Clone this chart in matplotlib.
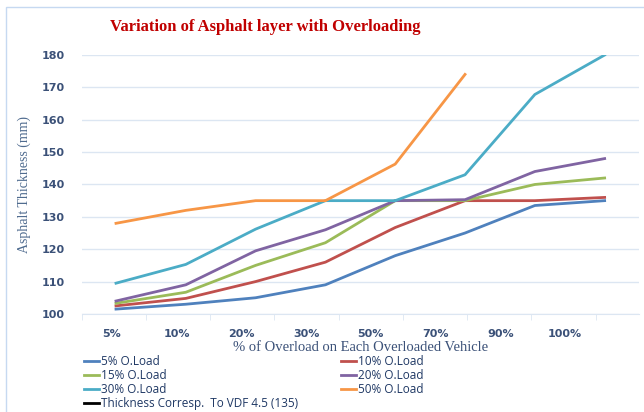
import numpy as np
import matplotlib.pyplot as plt

# categorie e serie (mm)
categorie = ['5%', '10%', '20%', '30%', '50%', '70%', '90%', '100%']
load5 = [101.5, 103, 105, 109, 118, 125, 133.5, 135]
load10 = [102.5, 104.8, 110, 116, 126.7, 135, 135, 136]
load15 = [103.3, 106.7, 115, 122, 135, 135, 140, 142]
load20 = [104, 109, 119.5, 126, 135, 135.3, 144, 148]
load30 = [109.5, 115.3, 126.2, 135, 135, 143, 167.8, 180]
load50 = [128, 132, 135, 135, 146.3, 174, np.nan, np.nan]
vdf = [np.nan] * 8  # serie vuota, compare solo in legenda

serie = [
    (load5, '5% O.Load', '#4F81BD'),
    (load10, '10% O.Load', '#C0504D'),
    (load15, '15% O.Load', '#9BBB59'),
    (load20, '20% O.Load', '#8064A2'),
    (load30, '30% O.Load', '#4BACC6'),
    (load50, '50% O.Load', '#F79646'),
    (vdf, 'Thickness Corresp.  To VDF 4.5 (135)', 'black'),
]

fig = plt.figure(figsize=(6.44, 4.12), dpi=100)
ax = fig.add_axes([0.127, 0.238, 0.865, 0.6285])

x = np.arange(len(categorie))
linee = {}
for dati, nome, colore in serie:
    linee[nome], = ax.plot(x, dati, color=colore, lw=2.0, label=nome)

ax.set_xlim(-0.49, 7.49)
ax.set_ylim(100, 180)
ax.set_yticks(np.arange(100, 181, 10))
ax.grid(axis='y', color='#DCE6F2', lw=1)
ax.set_axisbelow(True)

# etichette x leggermente "compresse" come nell'originale
ax.set_xticks(-0.057 + 0.927 * x)
ax.set_xticklabels(categorie)
ax.set_xticks(-0.49 + 0.92 * np.arange(9), minor=True)
ax.tick_params(axis='x', which='major', length=0, pad=11, labelsize=8, labelcolor='#3B5178')
ax.tick_params(axis='x', which='minor', length=4, color='#DCE6F2', direction='out')
ax.tick_params(axis='y', length=0, pad=12, labelsize=8, labelcolor='#3B5178')
for t in ax.get_xticklabels() + ax.get_yticklabels():
    t.set_fontweight('bold')

for s in ['top', 'right', 'left']:
    ax.spines[s].set_visible(False)
ax.spines['bottom'].set_color('#DCE6F2')

ax.set_ylabel('Asphalt Thickness (mm)', family='Liberation Serif', fontsize=10, color='#4F6B8F', labelpad=8)
ax.set_xlabel('% of Overload on Each Overloaded Vehicle', family='Liberation Serif', fontsize=10.5,
              color='#3B5178', labelpad=1)

fig.text(0.412, 1 - 27 / 412, 'Variation of Asphalt layer with Overloading', family='Liberation Serif',
         fontsize=12, fontweight='bold', color='#C00000', ha='center', va='center')

ordine = ['5% O.Load', '15% O.Load', '30% O.Load', 'Thickness Corresp.  To VDF 4.5 (135)',
          '10% O.Load', '20% O.Load', '50% O.Load']
fig.legend([linee[n] for n in ordine], ordine, loc='upper left', bbox_to_anchor=(0.121, 0.152),
           ncol=2, frameon=False, handlelength=1.3, handletextpad=0.15,
           columnspacing=3.6, labelspacing=0.08, borderpad=0, labelcolor='#1F3864',
           prop={'family': 'Open Sans', 'size': 8.5})

# bordo del grafico
fig.patches.append(plt.Rectangle((0.01, -0.01), 1.0, 0.993, transform=fig.transFigure,
                                 fill=False, edgecolor='#C6D9F1', lw=1))

fig.savefig('out.png', dpi=100)
